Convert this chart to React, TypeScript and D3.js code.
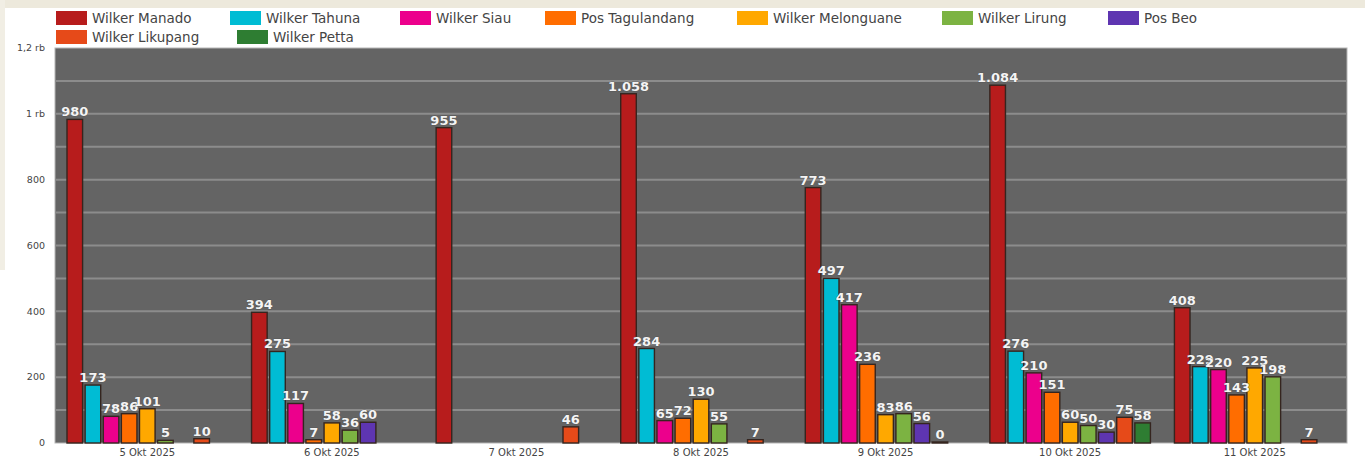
import React, { useEffect, useRef } from 'react';
import * as d3 from 'd3';

const dates = ['5 Okt 2025', '6 Okt 2025', '7 Okt 2025', '8 Okt 2025', '9 Okt 2025', '10 Okt 2025', '11 Okt 2025'];
const seriesNames = [
  'Wilker Manado',
  'Wilker Tahuna',
  'Wilker Siau',
  'Pos Tagulandang',
  'Wilker Melonguane',
  'Wilker Lirung',
  'Pos Beo',
  'Wilker Likupang',
  'Wilker Petta',
];
const seriesColors = ['#b71c1c', '#00bcd4', '#ec008c', '#ff6d00', '#ffa800', '#7cb342', '#5e35b1', '#e64a19', '#2e7d32'];

// one array per series, null = no bar
const manado = [980, 394, 955, 1058, 773, 1084, 408];
const tahuna = [173, 275, null, 284, 497, 276, 229];
const siau = [78, 117, null, 65, 417, 210, 220];
const tagulandang = [86, 7, null, 72, 236, 151, 143];
const melonguane = [101, 58, null, 130, 83, 60, 225];
const lirung = [5, 36, null, 55, 86, 50, 198];
const beo = [null, 60, null, null, 56, 30, null];
const likupang = [10, null, 46, 7, 0, 75, 7];
const petta = [null, null, null, null, null, 58, null];
const seriesValues = [manado, tahuna, siau, tagulandang, melonguane, lirung, beo, likupang, petta];

const yTicks = [0, 200, 400, 600, 800, 1000, 1200];

const W = 1365;
const H = 457;
const font = '"DejaVu Sans", Verdana, sans-serif';

const App = () => {
  const svgRef = useRef<SVGSVGElement>(null);

  useEffect(() => {
    const svg = d3.select(svgRef.current);
    svg.selectAll('*').remove();

    const plot = { left: 55, right: 1347, top: 48, bottom: 443 };

    // background: beige strips and white card
    svg.append('rect').attr('width', W).attr('height', H).attr('fill', '#ffffff');
    svg.append('rect').attr('x', 0).attr('y', 0).attr('width', W).attr('height', 8).attr('fill', '#ede9dc');
    svg.append('rect').attr('x', 0).attr('y', 0).attr('width', 5).attr('height', 270).attr('fill', '#f1eee4');

    const x0 = d3
      .scaleBand()
      .domain(dates)
      .range([plot.left, plot.right])
      .paddingInner(0.13)
      .paddingOuter(0.065);

    const x1 = d3
      .scaleBand()
      .domain(seriesNames)
      .range([0, x0.bandwidth()])
      .paddingInner(0.14);

    const y = d3.scaleLinear().domain([0, 1200]).range([plot.bottom, plot.top]);

    const loc = d3.formatLocale({ decimal: ',', thousands: '.', grouping: [3], currency: ['Rp', ''] });
    const fmt = loc.format(',d');
    const tickFmt = (d: number) => (d >= 1000 ? loc.format(',.1~f')(d / 1000) + ' rb' : String(d));

    // plot area
    svg
      .append('rect')
      .attr('x', plot.left)
      .attr('y', plot.top)
      .attr('width', plot.right - plot.left)
      .attr('height', plot.bottom - plot.top)
      .attr('fill', '#646464')
      .attr('stroke', '#b5b5b5')
      .attr('stroke-width', 1);

    // gridlines every 100
    svg
      .append('g')
      .selectAll('line')
      .data(d3.range(100, 1200, 100))
      .join('line')
      .attr('x1', plot.left)
      .attr('x2', plot.right)
      .attr('y1', (d) => y(d))
      .attr('y2', (d) => y(d))
      .attr('stroke', '#8c8c8c')
      .attr('stroke-width', 2);

    // y axis labels
    svg
      .append('g')
      .selectAll('text')
      .data(yTicks)
      .join('text')
      .attr('x', 45)
      .attr('y', (d) => y(d))
      .attr('dy', '0.35em')
      .attr('text-anchor', 'end')
      .attr('font-family', font)
      .attr('font-size', 9.5)
      .attr('fill', '#444')
      .text((d) => tickFmt(d));

    // x axis labels
    svg
      .append('g')
      .selectAll('text')
      .data(dates)
      .join('text')
      .attr('x', (d) => x0(d)! + x0.bandwidth() / 2)
      .attr('y', 456)
      .attr('text-anchor', 'middle')
      .attr('font-family', font)
      .attr('font-size', 10)
      .attr('fill', '#444')
      .text((d) => d);

    // bars
    const flat: { date: string; name: string; value: number; color: string }[] = [];
    seriesValues.forEach((vals, si) => {
      vals.forEach((v, di) => {
        if (v !== null) flat.push({ date: dates[di], name: seriesNames[si], value: v, color: seriesColors[si] });
      });
    });

    svg
      .append('g')
      .selectAll('rect')
      .data(flat)
      .join('rect')
      .attr('x', (d) => x0(d.date)! + x1(d.name)!)
      .attr('y', (d) => y(d.value) - 1)
      .attr('width', x1.bandwidth())
      .attr('height', (d) => y(0) - y(d.value) + 1)
      .attr('fill', (d) => d.color)
      .attr('stroke', '#35251f')
      .attr('stroke-width', 1.4);

    // value labels
    svg
      .append('g')
      .selectAll('text')
      .data(flat)
      .join('text')
      .attr('x', (d) => x0(d.date)! + x1(d.name)! + x1.bandwidth() / 2)
      .attr('y', (d) => y(d.value) - 4)
      .attr('text-anchor', 'middle')
      .attr('font-family', font)
      .attr('font-size', 13)
      .attr('font-weight', 'bold')
      .attr('fill', '#f4f4f4')
      .attr('stroke', '#4a4a4a')
      .attr('stroke-width', 0.6)
      .attr('paint-order', 'stroke')
      .text((d) => fmt(d.value));

    // legend
    const legendPos = [
      [56, 18], [230, 18], [400, 18], [545, 18], [737, 18], [942, 18], [1108, 18],
      [56, 37], [237, 37],
    ];
    const lg = svg.append('g');
    seriesNames.forEach((name, i) => {
      const [lx, ly] = legendPos[i];
      lg.append('rect')
        .attr('x', lx)
        .attr('y', ly - 7)
        .attr('width', 31)
        .attr('height', 14)
        .attr('fill', seriesColors[i]);
      lg.append('text')
        .attr('x', lx + 36)
        .attr('y', ly)
        .attr('dy', '0.35em')
        .attr('font-family', font)
        .attr('font-size', 13.5)
        .attr('fill', '#444')
        .text(name);
    });
  }, []);

  return (
    <div style={{ position: 'absolute', left: 0, top: 0 }}>
      <svg ref={svgRef} width={W} height={H} style={{ display: 'block' }} />
    </div>
  );
};

export default App;
